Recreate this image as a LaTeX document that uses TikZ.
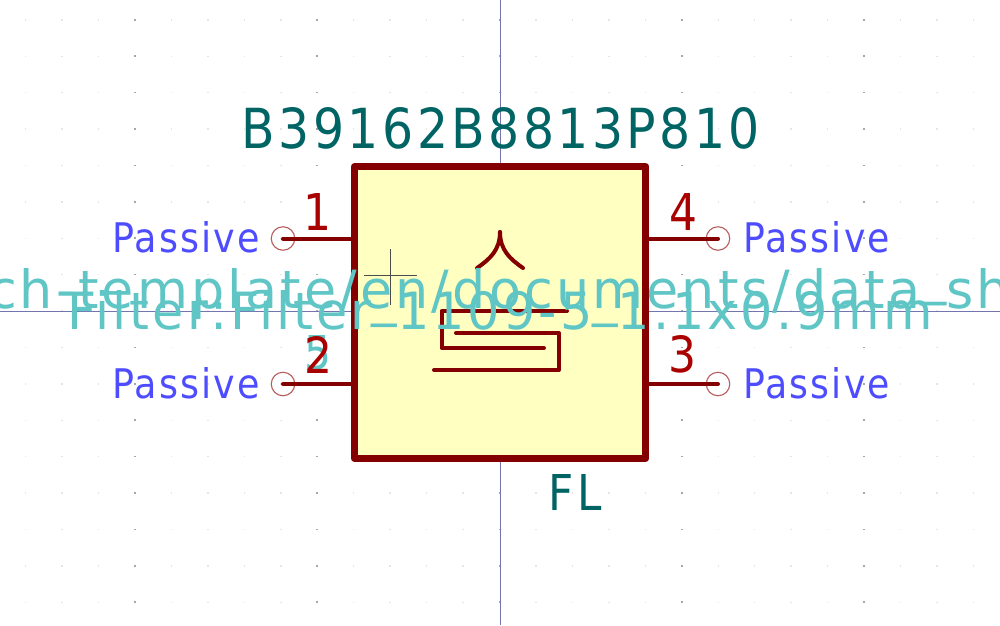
\documentclass[tikz,border=0pt]{standalone}
\usepackage{fontspec}
\setmainfont{DejaVu Sans}[LetterSpace=6]
\newfontfamily\plainf{DejaVu Sans}
\definecolor{bodyc}{HTML}{840000}
\definecolor{fillc}{HTML}{FFFFC2}
\definecolor{numc}{HTML}{A90000}
\definecolor{valc}{HTML}{006464}
\definecolor{fpc}{HTML}{5FC5C5}
\definecolor{pasc}{HTML}{4D4DFF}
\definecolor{axisc}{HTML}{7474B0}
\definecolor{ringc}{HTML}{B85C5C}
\newcommand{\fitt}[3]{\resizebox{#1pt}{#2pt}{\fontsize{40pt}{40pt}\selectfont #3}}
\newcommand{\us}{\raisebox{0.27em}{\_}}
\tikzset{
  lbl/.style={inner sep=0pt,outer sep=0pt,anchor=center},
  pinline/.style={draw=bodyc,line width=4pt,line cap=round},
  symline/.style={draw=bodyc,line width=4pt,line cap=round,line join=round},
  ring/.style={circle,draw=ringc,line width=1.1pt,minimum size=23.5pt,inner sep=0pt,fill=none},
  thin axis/.style={draw=axisc,line width=0.9pt},
  cross/.style={draw=black!70,line width=0.6pt},
}
\begin{document}
\begin{tikzpicture}[x=1pt,y=-1pt]
\useasboundingbox (0,0) rectangle (1000,625);
\fill[white] (0,0) rectangle (1000,625);
% grid
\foreach \i in {-13,...,13}{
  \foreach \j in {-8,...,8}{
    \pgfmathsetmacro{\gx}{499.5+36.45*\i}
    \pgfmathsetmacro{\gy}{311+36.4*\j}
    \pgfmathtruncatemacro{\mj}{mod(\i+20,5)==0?1:0}
    \ifnum\mj=1
      \fill[black!35] (\gx-0.8,\gy-0.8) rectangle (\gx+0.8,\gy+0.8);
    \else
      \fill[black!10] (\gx-0.7,\gy-0.7) rectangle (\gx+0.7,\gy+0.7);
    \fi
  }
}
% axes
\draw[thin axis] (500,0) -- (500,625);
\draw[thin axis] (0,311) -- (1000,311);
% body
\node[draw=bodyc,fill=fillc,line width=7pt,line join=round,minimum size=291.5pt,inner sep=0pt,outer sep=0pt] (body) at (500.2,312.5) {};
% pins
\node[ring] (p1) at (283,238.5) {};
\node[ring] (p2) at (283,384) {};
\node[ring] (p4) at (718,238.5) {};
\node[ring] (p3) at (718,384) {};
\draw[pinline] (p1.center) -- (p1.center -| body.west);
\draw[pinline] (p2.center) -- (p2.center -| body.west);
\draw[pinline] (p4.center) -- (p4.center -| body.east);
\draw[pinline] (p3.center) -- (p3.center -| body.east);
% symbol
\draw[symline] (500,232) .. controls (500,250) and (490,259) .. (477,268);
\draw[symline] (500,232) .. controls (500,250) and (510,259) .. (523,268);
\draw[symline] (567,311) -- (441.6,311) -- (441.6,348) -- (544,348);
\draw[symline] (456,333) -- (559,333) -- (559,370) -- (434,370);
% crosshair
\draw[cross] (390.5,249) -- (390.5,305);
\draw[cross] (364,275.5) -- (417,275.5);
% texts
\node[lbl,text=valc] (val) at (501,128) {\fitt{518}{41}{\plainf\addfontfeature{LetterSpace=7}B39162B8813P810}};
\node[lbl,text=valc] (ref) at (575,492) {\fitt{54}{36}{\plainf\addfontfeature{LetterSpace=10}FL}};
\node[lbl,text=numc] (n1) at (317.5,211.5) {\fitt{28}{37}{\plainf 1}};
\node[lbl,text=numc] (n4) at (683.5,211.5) {\fitt{28}{37}{\plainf 4}};
\node[lbl,text=fpc] (five) at (318,353) {\fitt{27}{34}{\plainf 5}};
\node[lbl,text=numc] (n2) at (318,354.5) {\fitt{28}{37}{\plainf 2}};
\node[lbl,text=numc] (n3) at (682,354.5) {\fitt{28}{37}{\plainf 3}};
\node[lbl,text=pasc,anchor=base west] (t1) at (112,252.5) {\fitt{148}{31}{Passive}};
\node[lbl,text=pasc,anchor=base west] (t2) at (112,398) {\fitt{148}{31}{Passive}};
\node[lbl,text=pasc,anchor=base west] (t4) at (743,252.5) {\fitt{147}{31}{Passive}};
\node[lbl,text=pasc,anchor=base west] (t3) at (743,398) {\fitt{147}{31}{Passive}};
\node[lbl,text=fpc,anchor=base west] (url) at (-12,308) {\fitt{1022}{40}{ch-template/en/documents/data\us sh}};
\node[lbl,text=fpc,anchor=base west] (fp) at (67,329) {\fitt{866}{39}{Filter:Filter\us 1109-5\us 1.1x0.9mm}};
\end{tikzpicture}
\end{document}
